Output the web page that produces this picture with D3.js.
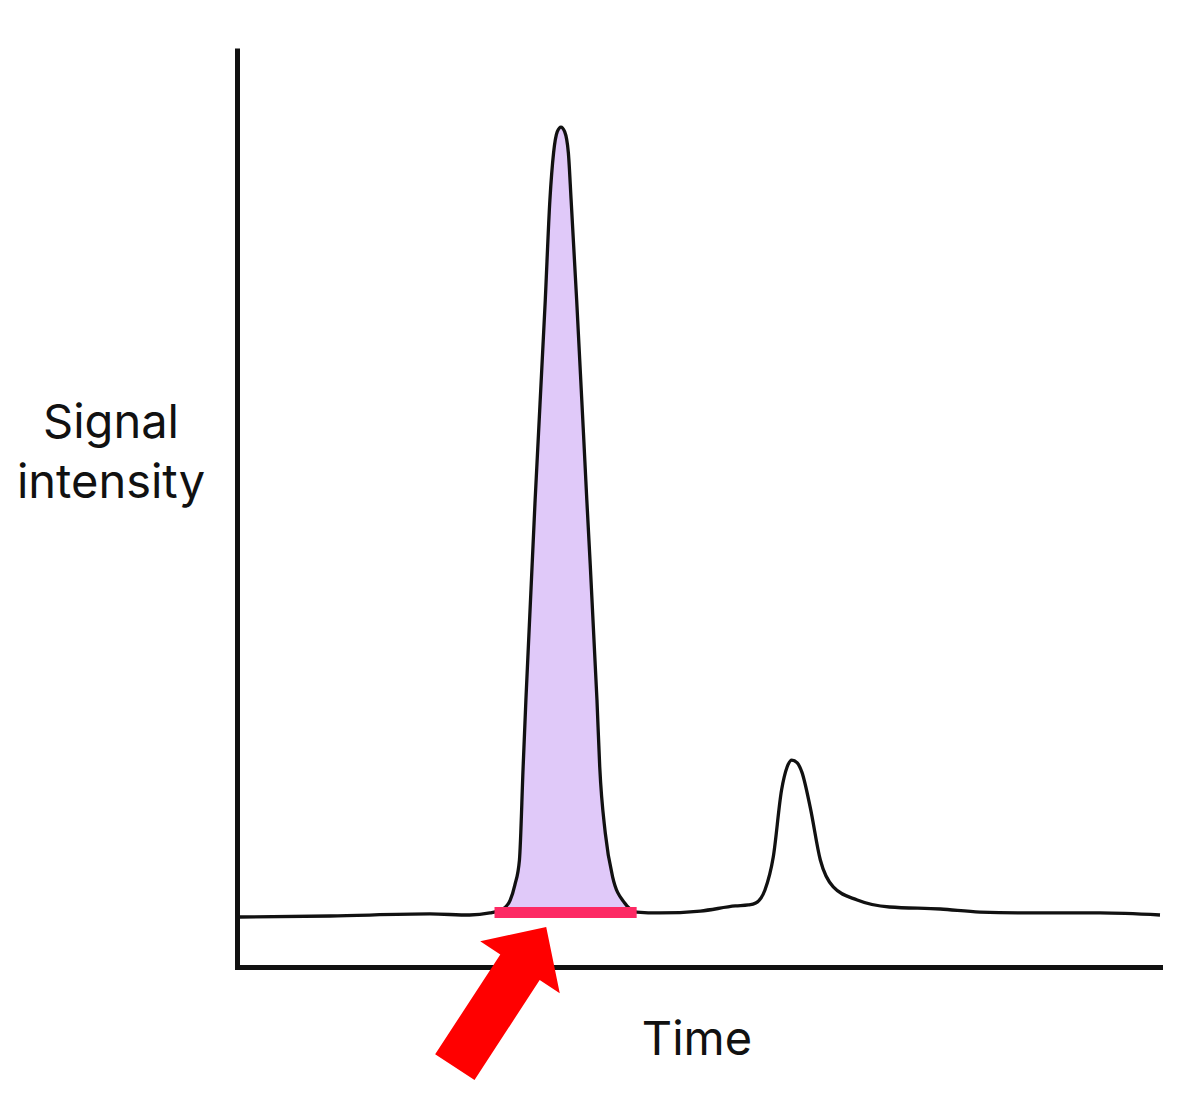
<!DOCTYPE html>
<html>
<head>
<meta charset="utf-8">
<script src="https://cdn.jsdelivr.net/npm/d3@7"></script>
<style>
  body { margin: 0; background: #fff; }
  text { font-family: Inter, "Noto Sans", sans-serif; fill: #111; }
</style>
</head>
<body>
<svg id="chart"></svg>
<script>
const width = 1200, height = 1117;

// signal trace (time in min, intensity in arbitrary units)
const times = [0.03, 1.01, 2.09, 2.52, 2.74, 2.88, 2.96, 3.01, 3.06, 3.10, 3.13, 3.23, 3.34, 3.39, 3.43, 3.47, 3.51,
  3.55, 3.59, 3.62, 3.68, 3.79, 3.90, 3.93, 3.99, 4.07, 4.20, 4.33, 4.58, 5.02, 5.40, 5.54, 5.62, 5.72, 5.81,
  5.90, 5.96, 6.01, 6.07, 6.12, 6.21, 6.32, 6.46, 6.72, 7.07, 7.62, 8.05, 8.59, 9.35, 10.0];
const intensity = [5.44, 5.55, 5.77, 5.66, 5.88, 6.31, 7.29, 8.92, 11.64, 21.76, 29.05, 50.82, 72.58, 83.46, 88.6, 90.9, 91.4,
  90.9, 88.6, 83.46, 72.58, 50.82, 29.05, 21.76, 14.58, 9.79, 6.96, 5.98, 5.88, 6.09, 6.64, 6.75, 6.96, 8.38, 11.97,
  19.26, 21.76, 22.52, 22.2, 21.2, 17.4, 11.64, 8.71, 7.29, 6.53, 6.31, 5.98, 5.88, 5.88, 5.66];

// integration window of the main peak
const peakStart = 2.79, peakEnd = 4.33, peakBase = 5.93;
// annotation arrow: tail -> tip
const arrowTail = [2.36, -10.9], arrowTip = [3.35, 4.35];

const trace = times.map((t, i) => ({t, v: intensity[i]}));

const svg = d3.select("#chart").attr("width", width).attr("height", height);

const x = d3.scaleLinear().domain([0, 10]).range([237, 1160]);
const y = d3.scaleLinear().domain([0, 100]).range([967, 48]);

// shaded peak area
svg.append("path")
   .datum(trace.filter(d => d.t >= 2.88 && d.t <= peakEnd))
   .attr("fill", "#e0c9f9")
   .attr("d", d3.area().x(d => x(d.t)).y0(y(peakBase)).y1(d => y(d.v)).curve(d3.curveMonotoneX));

// trace
svg.append("path")
   .datum(trace)
   .attr("fill", "none")
   .attr("stroke", "#111")
   .attr("stroke-width", 3.3)
   .attr("stroke-linejoin", "round")
   .attr("d", d3.line().x(d => x(d.t)).y(d => y(d.v)).curve(d3.curveMonotoneX));

// integration bar
svg.append("line")
   .attr("x1", x(peakStart)).attr("x2", x(peakEnd))
   .attr("y1", y(peakBase)).attr("y2", y(peakBase))
   .attr("stroke", "#fd2a64")
   .attr("stroke-width", 11);

// axes, no ticks
svg.append("g")
   .attr("transform", `translate(${x(0)},0)`)
   .call(d3.axisLeft(y).ticks(0).tickSize(0).tickSizeOuter(0))
   .call(g => g.select(".domain").attr("stroke", "#111").attr("stroke-width", 5));
svg.append("g")
   .attr("transform", `translate(0,${y(0)})`)
   .call(d3.axisBottom(x).ticks(0).tickSize(0).tickSizeOuter(0))
   .call(g => g.select(".domain").attr("stroke", "#111").attr("stroke-width", 5)
                .attr("stroke-linecap", "square"));

// arrow
const tail = [x(arrowTail[0]), y(arrowTail[1])], tip = [x(arrowTip[0]), y(arrowTip[1])];
const dx = tip[0] - tail[0], dy = tip[1] - tail[1], len = Math.hypot(dx, dy);
const u = [dx / len, dy / len], n = [-u[1], u[0]];
const shaftW = 23.5, headW = 47.5, headL = 48;
const hb = [tip[0] - u[0] * headL, tip[1] - u[1] * headL];
const pt = (p, k) => [p[0] + n[0] * k, p[1] + n[1] * k];
const arrowPts = [tip, pt(hb, headW), pt(hb, shaftW), pt(tail, shaftW), pt(tail, -shaftW), pt(hb, -shaftW), pt(hb, -headW)];
svg.append("path")
   .attr("d", d3.line()(arrowPts) + "Z")
   .attr("fill", "#ff0000");

// labels
svg.append("text")
   .attr("x", 697).attr("y", 1055)
   .attr("text-anchor", "middle")
   .attr("font-size", 47)
   .text("Time");

svg.append("text")
   .attr("text-anchor", "middle")
   .attr("font-size", 47)
   .selectAll("tspan")
   .data(["Signal", "intensity"])
   .join("tspan")
   .attr("x", 111)
   .attr("y", (d, i) => 438 + i * 60)
   .text(d => d);
</script>
</body>
</html>
